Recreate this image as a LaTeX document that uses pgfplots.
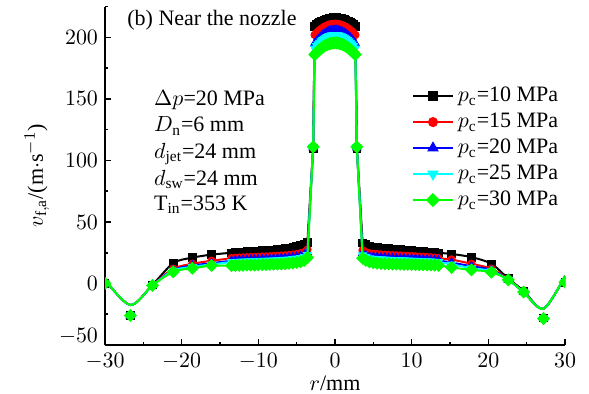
\documentclass[border=0pt]{standalone}
\usepackage{pgfplots}
\pgfplotsset{compat=1.18}
\usepackage{pgfplotstable}
\usepackage{fontspec}
\setmainfont{Liberation Serif}

\definecolor{cA}{rgb}{0,0,0}
\definecolor{cB}{rgb}{1,0,0}
\definecolor{cC}{rgb}{0,0,1}
\definecolor{cD}{rgb}{0,1,1}
\definecolor{cE}{rgb}{0,1,0}

% measured points (r in mm, v in m/s) for pc = 10,15,20,25,30 MPa
\pgfplotstableread{
r a b c d e
-30 0 0 0 0 0
-26.7 -26 -26 -26 -26 -26
-23.8 -1 -1.3 -1.5 -1.6 -1.6
-21.1 16.5 12 11 10.5 9.5
-18.6 21 16 14.5 13.5 12.4
-16.1 23.5 18.5 16.5 15.5 14.6
-13.5 25 20.5 18.5 17.5 14.5
-13 25.2 20.8 18.8 17.6 14.6
-12.5 25.5 21 19 17.8 14.7
-12 25.7 21.1 19.1 17.9 14.8
-11.5 26 21.3 19.3 18 15
-11 26.1 21.4 19.4 18.1 15
-10.5 26.3 21.5 19.5 18.2 15
-10 26.5 21.6 19.6 18.3 15.1
-9.5 26.7 21.8 19.8 18.5 15.3
-9 26.9 21.9 19.9 18.6 15.4
-8.5 27.1 22 20 18.7 15.5
-8 27.3 22.2 20.2 18.8 15.6
-7.5 27.6 22.4 20.4 19 15.8
-7 27.9 22.6 20.6 19.2 15.9
-6.5 28.3 22.8 20.8 19.4 16.1
-6 28.7 23.1 21 19.6 16.3
-5.5 29.3 23.4 21.3 19.9 16.6
-5 30 23.9 21.7 20.3 17
-4.5 31 24.5 22.3 20.8 17.6
-4 32 25.5 23.3 21.8 18.8
-3.6 33.5 27.5 25 23.5 21
-2.85 110 110 110.5 111 111
-2.65 209 202 195 191 186
-2.4 210.3 203.6 197 193 187.7
-2.2 211.2 204.8 198.4 194.4 189
-2.0 212 205.9 199.7 195.7 190.1
-1.8 212.8 206.8 200.9 196.9 191.1
-1.6 213.4 207.7 202 198 192
-1.4 214 208.5 202.9 198.9 192.8
-1.2 214.6 209.2 203.7 199.7 193.6
-1.0 215 209.7 204.4 200.4 194.1
-0.8 215.4 210.2 205 201 194.6
-0.6 215.6 210.5 205.4 201.4 195
-0.4 215.8 210.8 205.7 201.7 195.3
-0.2 216 210.9 205.9 201.9 195.4
0 216 211 206 202 195.5
0.2 216 210.9 205.9 201.9 195.4
0.4 215.8 210.8 205.7 201.7 195.3
0.6 215.6 210.5 205.4 201.4 195
0.8 215.4 210.2 205 201 194.6
1.0 215 209.7 204.4 200.4 194.1
1.2 214.6 209.2 203.7 199.7 193.6
1.4 214 208.5 202.9 198.9 192.8
1.6 213.4 207.7 202 198 192
1.8 212.8 206.8 200.9 196.9 191.1
2.0 212 205.9 199.7 195.7 190.1
2.2 211.2 204.8 198.4 194.4 189
2.4 210.3 203.6 197 193 187.7
2.65 209 202 195 191 186
2.85 110 110 110.5 111 111
3.6 33 27 24.5 23 20.5
4 31.8 25.5 23 21.5 18.8
4.5 30.5 24.5 22 20.5 17.5
5 29.8 24.1 21.7 20.2 16.9
5.5 29.3 23.8 21.5 20 16.5
6 28.9 23.5 21.2 19.7 16.2
6.5 28.6 23.3 21 19.5 16
7 28.3 23.1 20.8 19.3 15.9
7.5 28 23 20.7 19.2 15.8
8 27.7 22.8 20.5 19.1 15.7
8.5 27.5 22.7 20.4 19 15.6
9 27.2 22.5 20.3 18.9 15.5
9.5 27 22.4 20.2 18.8 15.5
10 26.7 22.2 20.1 18.6 15.4
10.5 26.5 22 20 18.5 15.3
11 26.2 21.8 19.8 18.3 15.2
11.5 26 21.6 19.6 18.2 15.2
12 25.7 21.4 19.4 18.1 15.1
12.5 25.5 21.2 19.3 18 15
13 25.2 20.9 19.1 17.8 14.9
13.5 25 20.5 18.8 17.5 14.8
15.2 24 19.5 17 15.5 13
17.8 21.4 16 14 12.5 11
20.4 16 12 11 10 9.2
22.6 4 3.5 3 3 3
24.6 -6 -7 -7 -7 -7
27.2 -28 -28 -28 -28 -28.5
30 1 1 1 1 1
}\markdata

% fitted curves in the outer zones, as drawn in the figure
\pgfplotstableread{
r a b c d e
-30 3 3 3 3 3
-26.7 -17.5 -17.5 -17.5 -17.5 -17.5
-23.8 -1 -1.3 -1.5 -1.6 -1.6
-21.1 16.5 12 11 10.5 9.5
-18.6 21 16 14.5 13.5 12.4
-16.1 23.5 18.5 16.5 15.5 14.6
15.2 24 19.5 17 15.5 13
17.8 21.4 16 14 12.5 11
20.4 16 12 11 10 9.2
22.6 4 3.5 3 3 3
24.6 -6 -7 -7 -7 -7
27.2 -20.5 -20.5 -20.5 -20.5 -20.5
30 6 6 6 6 6
}\linedata

\newcommand{\series}[3]{%
  \addplot[#2, line width=1pt, smooth, forget plot, restrict x to domain=-31:-16] table[x=r, y=#1] {\linedata};
  \addplot[#2, line width=1pt, sharp plot, forget plot, restrict x to domain=-16.2:15.3] table[x=r, y=#1] {\markdata};
  \addplot[#2, line width=1pt, smooth, forget plot, restrict x to domain=15.1:31] table[x=r, y=#1] {\linedata};
  \addplot[#2, only marks, forget plot, #3] table[x=r, y=#1] {\markdata};
}

\begin{document}
\begin{tikzpicture}[font=\fontsize{11}{13}\selectfont]
\path[use as bounding box] (-52.5pt,-24pt) rectangle (242pt,172.5pt);
\begin{axis}[
  at={(0pt,0pt)}, anchor=south west,
  scale only axis, width=230pt, height=169.2pt,
  xmin=-30, xmax=30, ymin=-50, ymax=225,
  axis x line=bottom, axis y line=left,
  axis line style={-, line width=1pt},
  xtick={-30,-20,...,30}, ytick={0,50,...,200},
  extra y ticks={-50},
  extra y tick style={yticklabel style={yshift=4.5pt}},
  minor x tick num=1, minor ytick={-25,25,75,125,175,225},
  tick align=inside, major tick length=2.8pt, minor tick length=1.6pt,
  every tick/.style={black, line width=0.8pt},
  ticklabel style={font=\fontsize{11}{13}\selectfont},
  xticklabel style={yshift=-0.5pt},
  xlabel={$r$/mm},
  ylabel={$v_{\mathrm{f,a}}$/(m$\cdot$s$^{-1}$)},
  xlabel style={yshift=3.5pt},
  ylabel style={yshift=-2pt},
  clip marker paths=true,
  legend style={at={(axis cs:10,163)}, anchor=north west, draw=none, fill=none,
    font=\fontsize{11}{13}\selectfont, inner sep=0pt, row sep=0.2pt},
  legend cell align=left,
  legend image code/.code={\draw[mark repeat=2,mark phase=2,#1] plot coordinates {(0cm,0cm)(0.35cm,0cm)(0.7cm,0cm)};},
]
\addlegendimage{cA, line width=1pt, mark=square*, mark size=1.9pt, mark options={solid, fill=cA}}
\addlegendentry{$p_{\mathrm{c}}$=10 MPa}
\addlegendimage{cB, line width=1pt, mark=*, mark size=2pt, mark options={solid, fill=cB}}
\addlegendentry{$p_{\mathrm{c}}$=15 MPa}
\addlegendimage{cC, line width=1pt, mark=triangle*, mark size=2.4pt, mark options={solid, fill=cC}}
\addlegendentry{$p_{\mathrm{c}}$=20 MPa}
\addlegendimage{cD, line width=1pt, mark=triangle*, mark size=2.4pt, mark options={solid, fill=cD, rotate=180}}
\addlegendentry{$p_{\mathrm{c}}$=25 MPa}
\addlegendimage{cE, line width=1pt, mark=square*, mark size=2pt, mark options={solid, fill=cE, rotate=45}}
\addlegendentry{$p_{\mathrm{c}}$=30 MPa}

\series{a}{cA}{mark=square*, mark size=1.9pt, mark options={fill=cA, draw=cA}}
\series{b}{cB}{mark=*, mark size=1.9pt, mark options={fill=cB, draw=cB}}
\series{c}{cC}{mark=triangle*, mark size=2.4pt, mark options={fill=cC, draw=cC}}
\series{d}{cD}{mark=triangle*, mark size=2.4pt, mark options={fill=cD, draw=cD, rotate=180}}
\series{e}{cE}{mark=square*, mark size=2.1pt, mark options={fill=cE, draw=cE, rotate=45}}

\node[anchor=base west] at (axis cs:-28,210) {(b) Near the nozzle};
\node[anchor=base west] at (axis cs:-24.5,145) {$\Delta p$=20 MPa};
\node[anchor=base west] at (axis cs:-24.5,123.3) {$D_{\mathrm{n}}$=6 mm};
\node[anchor=base west] at (axis cs:-24.5,101.7) {$d_{\mathrm{jet}}$=24 mm};
\node[anchor=base west] at (axis cs:-24.5,80) {$d_{\mathrm{sw}}$=24 mm};
\node[anchor=base west] at (axis cs:-24.5,59.6) {T$_{\mathrm{in}}$=353 K};
\end{axis}
\end{tikzpicture}
\end{document}
